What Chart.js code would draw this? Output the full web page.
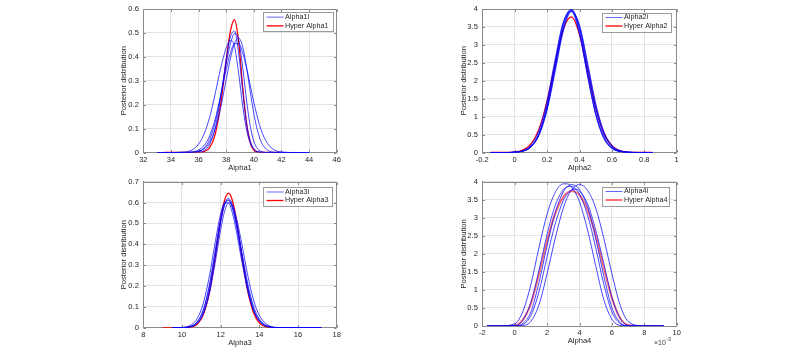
<!DOCTYPE html>
<html>
<head>
<meta charset="utf-8">
<script src="https://cdn.jsdelivr.net/npm/chart.js@4/dist/chart.umd.min.js"></script>
<style>
html,body{margin:0;padding:0;background:#fff;width:800px;height:351px;overflow:hidden}
canvas{position:absolute;left:0;top:0}
</style>
</head>
<body>
<canvas id="c1" width="800" height="351"></canvas>
<canvas id="c2" width="800" height="351"></canvas>
<canvas id="c3" width="800" height="351"></canvas>
<canvas id="c4" width="800" height="351"></canvas>
<script>
// ---------- Panel 1 : Alpha1 ----------
const xTicks1 = [32, 34, 36, 38, 40, 42, 44, 46];
const yTicks1 = [0, 0.1, 0.2, 0.3, 0.4, 0.5, 0.6];
const legend1 = ['Alpha1i', 'Hyper Alpha1'];
const xGrid1 = [33, 34, 35, 35.5, 36, 36.4, 36.8, 37.2, 37.6, 38, 38.3, 38.6, 38.9, 39.2, 39.5, 39.8, 40.1, 40.5, 41, 41.5, 42, 43, 44];
const alpha1_1 = [0, 0, 0, 0, 0.0016, 0.008, 0.034, 0.101, 0.229, 0.390, 0.482, 0.508, 0.417, 0.254, 0.115, 0.039, 0.0096, 0.0009, 0, 0, 0, 0, 0];
const alpha1_2 = [0, 0, 0, 0.0009, 0.0055, 0.019, 0.054, 0.125, 0.237, 0.370, 0.453, 0.497, 0.473, 0.353, 0.206, 0.093, 0.033, 0.0055, 0.0003, 0, 0, 0, 0];
const alpha1_3 = [0, 0, 0, 0.0008, 0.0045, 0.015, 0.042, 0.097, 0.187, 0.305, 0.391, 0.455, 0.478, 0.441, 0.347, 0.233, 0.133, 0.049, 0.0095, 0.0012, 0, 0, 0];
const alpha1_4 = [0, 0, 0.0025, 0.010, 0.035, 0.077, 0.147, 0.245, 0.352, 0.437, 0.468, 0.445, 0.332, 0.193, 0.088, 0.031, 0.0085, 0.001, 0, 0, 0, 0, 0];
const alpha1_5 = [0, 0, 0.0004, 0.0023, 0.0105, 0.029, 0.069, 0.139, 0.238, 0.347, 0.416, 0.455, 0.455, 0.416, 0.347, 0.265, 0.185, 0.099, 0.037, 0.0105, 0.0023, 0, 0];
const xHyper1 = [33.5, 34, 35, 36, 36.4, 36.8, 37.2, 37.6, 38, 38.3, 38.6, 38.9, 39.2, 39.5, 39.8, 40.1, 40.5, 41, 42];
const hyper1 = [0, 0, 0, 0.0006, 0.004, 0.020, 0.075, 0.200, 0.385, 0.506, 0.555, 0.464, 0.270, 0.110, 0.031, 0.006, 0.0004, 0, 0];

// ---------- Panel 2 : Alpha2 ----------
const xTicks2 = [-0.2, 0, 0.2, 0.4, 0.6, 0.8, 1];
const yTicks2 = [0, 0.5, 1, 1.5, 2, 2.5, 3, 3.5, 4];
const legend2 = ['Alpha2i', 'Hyper Alpha2'];
const xGrid2 = [-0.15, -0.05, 0, 0.05, 0.1, 0.15, 0.2, 0.25, 0.3, 0.35, 0.4, 0.45, 0.5, 0.55, 0.6, 0.65, 0.7, 0.75, 0.85];
const alpha2_1 = [0, 0, 0.007, 0.039, 0.165, 0.53, 1.31, 2.48, 3.59, 4.0, 3.41, 2.23, 1.11, 0.43, 0.126, 0.029, 0.005, 0, 0];
const alpha2_2 = [0, 0, 0.007, 0.037, 0.153, 0.495, 1.23, 2.36, 3.49, 3.97, 3.49, 2.36, 1.23, 0.495, 0.153, 0.037, 0.007, 0, 0];
const alpha2_3 = [0, 0, 0.011, 0.054, 0.209, 0.626, 1.45, 2.61, 3.64, 3.93, 3.29, 2.13, 1.07, 0.415, 0.126, 0.029, 0.005, 0, 0];
const alpha2_4 = [0, 0, 0.007, 0.038, 0.152, 0.48, 1.18, 2.26, 3.38, 3.93, 3.55, 2.50, 1.37, 0.59, 0.195, 0.051, 0.010, 0.002, 0];
const alpha2_5 = [0, 0, 0.007, 0.038, 0.162, 0.528, 1.31, 2.49, 3.60, 3.97, 3.34, 2.14, 1.05, 0.39, 0.111, 0.024, 0.004, 0, 0];
const alpha2_6 = [0, 0, 0.008, 0.041, 0.165, 0.513, 1.24, 2.35, 3.45, 3.95, 3.52, 2.44, 1.32, 0.556, 0.18, 0.047, 0.009, 0.001, 0];
const hyper2 = [0, 0, 0.015, 0.068, 0.235, 0.65, 1.43, 2.49, 3.44, 3.78, 3.29, 2.27, 1.25, 0.54, 0.19, 0.051, 0.011, 0.002, 0];

// ---------- Panel 3 : Alpha3 ----------
const xTicks3 = [8, 10, 12, 14, 16, 18];
const yTicks3 = [0, 0.1, 0.2, 0.3, 0.4, 0.5, 0.6, 0.7];
const legend3 = ['Alpha3i', 'Hyper Alpha3'];
const xGrid3 = [9.5, 10, 10.5, 10.8, 11.1, 11.4, 11.7, 12, 12.2, 12.4, 12.6, 12.8, 13.1, 13.4, 13.7, 14, 14.5, 15, 16, 17.2];
const alpha3_1 = [0, 0.0006, 0.008, 0.030, 0.086, 0.197, 0.361, 0.527, 0.598, 0.613, 0.575, 0.494, 0.335, 0.187, 0.086, 0.033, 0.004, 0.0003, 0, 0];
const alpha3_2 = [0, 0.0003, 0.0056, 0.022, 0.069, 0.169, 0.328, 0.504, 0.589, 0.620, 0.592, 0.516, 0.353, 0.197, 0.089, 0.033, 0.004, 0.0003, 0, 0];
const alpha3_3 = [0, 0.0014, 0.015, 0.046, 0.116, 0.239, 0.400, 0.546, 0.598, 0.599, 0.552, 0.469, 0.315, 0.176, 0.082, 0.032, 0.0044, 0.0004, 0, 0];
const alpha3_4 = [0, 0.0004, 0.0058, 0.022, 0.065, 0.156, 0.302, 0.469, 0.556, 0.598, 0.587, 0.533, 0.399, 0.251, 0.133, 0.059, 0.010, 0.001, 0, 0];
const alpha3_5 = [0, 0.0006, 0.008, 0.029, 0.082, 0.189, 0.348, 0.511, 0.586, 0.610, 0.581, 0.509, 0.359, 0.211, 0.103, 0.042, 0.006, 0.0006, 0, 0];
const xHyper3 = [9, 10, 10.5, 10.8, 11.1, 11.4, 11.7, 12, 12.2, 12.4, 12.6, 12.8, 13.1, 13.4, 13.7, 14, 14.5, 15, 15.9];
const hyper3 = [0, 0.0002, 0.0043, 0.018, 0.062, 0.161, 0.326, 0.517, 0.610, 0.645, 0.612, 0.524, 0.341, 0.176, 0.071, 0.023, 0.002, 0, 0];

// ---------- Panel 4 : Alpha4 (x in units of 1e-3) ----------
const xTicks4 = [-2, 0, 2, 4, 6, 8, 10];
const yTicks4 = [0, 0.5, 1, 1.5, 2, 2.5, 3, 3.5, 4];
const legend4 = ['Alpha4i', 'Hyper Alpha4'];
const xGrid4 = [-1.7, -1, 0, 0.5, 1, 1.5, 2, 2.5, 3, 3.25, 3.5, 3.75, 4, 4.5, 5, 5.5, 6, 6.5, 7, 8, 9.2];
const alpha4_1 = [0, 0, 0.06, 0.40, 1.15, 2.18, 3.10, 3.70, 3.94, 3.94, 3.86, 3.69, 3.44, 2.66, 1.67, 0.73, 0.19, 0.015, 0, 0, 0];
const alpha4_2 = [0, 0, 0, 0.07, 0.39, 1.21, 2.23, 3.14, 3.72, 3.86, 3.92, 3.89, 3.78, 3.29, 2.43, 1.39, 0.51, 0.10, 0, 0, 0];
const alpha4_3 = [0, 0, 0, 0.01, 0.13, 0.59, 1.45, 2.43, 3.27, 3.57, 3.76, 3.88, 3.92, 3.76, 3.27, 2.43, 1.45, 0.59, 0.13, 0, 0];
const alpha4_4 = [0, 0, 0.01, 0.16, 0.66, 1.55, 2.54, 3.34, 3.78, 3.86, 3.87, 3.80, 3.65, 3.07, 2.17, 1.16, 0.39, 0.07, 0, 0, 0];
const alpha4_5 = [0, 0, 0, 0.04, 0.29, 0.95, 1.92, 2.83, 3.48, 3.67, 3.77, 3.80, 3.74, 3.38, 2.66, 1.73, 0.80, 0.22, 0.02, 0, 0];
const hyper4 = [0, 0, 0.015, 0.17, 0.62, 1.44, 2.36, 3.12, 3.58, 3.69, 3.74, 3.71, 3.63, 3.22, 2.51, 1.61, 0.78, 0.22, 0.03, 0, 0];

// ---------- Styling / drawing ----------
const FAMILY = '"Liberation Sans", Arial, Helvetica, sans-serif';
const TXT = '#262626';
const GRID = '#e3e3e3';
const AXIS = '#8a8a8a';
const BLUE = 'rgba(0,0,255,0.72)';
const YW = 40, XH = 22;

function pts(xs, ys) { return xs.map((x, i) => ({ x: x, y: ys[i] })); }

const decor = {
  id: 'decor',
  beforeDatasetsDraw(chart, args, o) {
    const ctx = chart.ctx, a = chart.chartArea;
    const L = Math.round(a.left) + 0.5, R = Math.round(a.right) - 0.5;
    const T = Math.round(a.top) + 0.5, B = Math.round(a.bottom) - 0.5;
    ctx.save();
    ctx.strokeStyle = AXIS; ctx.lineWidth = 1;
    ctx.beginPath();
    ctx.moveTo(L, T); ctx.lineTo(R, T); ctx.lineTo(R, B);
    ctx.stroke();
    const xs = chart.scales.x, ys = chart.scales.y;
    ctx.beginPath();
    o.xTicks.forEach(v => {
      const px = Math.round(xs.getPixelForValue(v)) + 0.5;
      ctx.moveTo(px, B); ctx.lineTo(px, B - 2.5);
      ctx.moveTo(px, T); ctx.lineTo(px, T + 2.5);
    });
    o.yTicks.forEach(v => {
      const py = Math.round(ys.getPixelForValue(v)) + 0.5;
      ctx.moveTo(L, py); ctx.lineTo(L + 2.5, py);
      ctx.moveTo(R, py); ctx.lineTo(R - 2.5, py);
    });
    ctx.stroke();
    ctx.restore();
  },
  afterDraw(chart, args, o) {
    const ctx = chart.ctx, a = chart.chartArea;
    ctx.save();
    ctx.fillStyle = TXT;
    ctx.textBaseline = 'middle';
    ctx.textAlign = 'center';
    ctx.font = '7.6px ' + FAMILY;
    ctx.fillText(o.xTitle, (a.left + a.right) / 2, o.xTitleY);
    ctx.save();
    ctx.translate(o.yTitleX, (a.top + a.bottom) / 2);
    ctx.rotate(-Math.PI / 2);
    ctx.fillText(o.yTitle, 0, 0);
    ctx.restore();
    // legend
    const [lx, ly, lw, lh] = o.legendBox;
    ctx.fillStyle = '#fff';
    ctx.fillRect(lx, ly, lw, lh);
    ctx.strokeStyle = '#9a9a9a'; ctx.lineWidth = 1;
    ctx.strokeRect(Math.round(lx) + 0.5, Math.round(ly) + 0.5, Math.round(lw), Math.round(lh));
    const rows = [ly + lh * 0.27, ly + lh * 0.73];
    const styles = [[o.legendBlue, 1], [o.redColor, o.redWidth]];
    ctx.font = '7.2px ' + FAMILY;
    ctx.textAlign = 'left';
    o.legend.forEach((lab, i) => {
      ctx.strokeStyle = styles[i][0]; ctx.lineWidth = styles[i][1];
      ctx.beginPath(); ctx.moveTo(lx + 3.5, rows[i]); ctx.lineTo(lx + 20.5, rows[i]); ctx.stroke();
      ctx.fillStyle = TXT;
      ctx.fillText(lab, lx + 22, rows[i]);
    });
    if (o.exponent) {
      ctx.fillStyle = '#404040';
      ctx.font = '7px ' + FAMILY;
      ctx.textAlign = 'left';
      ctx.fillText('\u00d710', o.exponent[0], o.exponent[1]);
      const w = ctx.measureText('\u00d710').width;
      ctx.font = '5.4px ' + FAMILY;
      ctx.fillText('-3', o.exponent[0] + w + 0.3, o.exponent[1] - 3.2);
    }
    ctx.restore();
  }
};

function panel(id, p) {
  const datasets = p.blue.map(ys => ({
    data: pts(p.bx, ys), borderColor: BLUE, borderWidth: 1,
    pointRadius: 0, fill: false, cubicInterpolationMode: 'monotone'
  }));
  datasets.push({
    data: pts(p.rx, p.red), borderColor: p.redColor, borderWidth: p.redWidth,
    pointRadius: 0, fill: false, cubicInterpolationMode: 'monotone'
  });
  const tickFont = { family: FAMILY, size: 7.5 };
  new Chart(document.getElementById(id), {
    type: 'line',
    data: { datasets: datasets },
    plugins: [decor],
    options: {
      responsive: false, animation: false, devicePixelRatio: 1, events: [],
      layout: { autoPadding: false, padding: { left: p.l - YW, right: 800 - p.r, top: p.t, bottom: 351 - p.b - XH } },
      plugins: {
        legend: { display: false }, tooltip: { enabled: false },
        decor: {
          xTicks: p.xTicks, yTicks: p.yTicks, xTitle: p.xTitle, xTitleY: p.xTitleY,
          yTitle: 'Posterior distribution', yTitleX: p.yTitleX, legend: p.legend,
          legendBox: p.legendBox, legendBlue: 'rgba(0,0,255,0.6)',
          redColor: p.redColor, redWidth: p.redWidth, exponent: p.exponent
        }
      },
      scales: {
        x: {
          type: 'linear', min: p.xTicks[0], max: p.xTicks[p.xTicks.length - 1],
          afterBuildTicks: s => { s.ticks = p.xTicks.map(v => ({ value: v })); },
          afterFit: s => { s.height = XH; },
          grid: { color: GRID, drawTicks: false, lineWidth: 1 },
          border: { color: AXIS, width: 1 },
          ticks: { padding: 2.5, color: TXT, font: tickFont, maxRotation: 0, autoSkip: false, callback: v => String(v) }
        },
        y: {
          type: 'linear', min: p.yTicks[0], max: p.yTicks[p.yTicks.length - 1],
          afterBuildTicks: s => { s.ticks = p.yTicks.map(v => ({ value: v })); },
          afterFit: s => { s.width = YW; },
          grid: { color: GRID, drawTicks: false, lineWidth: 1 },
          border: { color: AXIS, width: 1 },
          ticks: { padding: 4.5, color: TXT, font: tickFont, autoSkip: false, callback: v => String(v) }
        }
      }
    }
  });
}

panel('c1', {
  l: 143.3, r: 336.7, t: 7.5, b: 152.5,
  xTicks: xTicks1, yTicks: yTicks1, xTitle: 'Alpha1', xTitleY: 168, yTitleX: 124,
  legend: legend1, legendBox: [263, 12, 70, 19],
  bx: xGrid1, blue: [alpha1_1, alpha1_2, alpha1_3, alpha1_4, alpha1_5],
  rx: xHyper1, red: hyper1, redColor: '#ff0000', redWidth: 1.3
});
panel('c2', {
  l: 482.3, r: 676.7, t: 7.5, b: 152.5,
  xTicks: xTicks2, yTicks: yTicks2, xTitle: 'Alpha2', xTitleY: 168, yTitleX: 463.5,
  legend: legend2, legendBox: [602, 12.5, 69, 18.5],
  bx: xGrid2, blue: [alpha2_1, alpha2_2, alpha2_3, alpha2_4, alpha2_5, alpha2_6],
  rx: xGrid2, red: hyper2, redColor: '#ff0000', redWidth: 1.3
});
panel('c3', {
  l: 143.3, r: 336.7, t: 181.7, b: 327.7,
  xTicks: xTicks3, yTicks: yTicks3, xTitle: 'Alpha3', xTitleY: 343, yTitleX: 124,
  legend: legend3, legendBox: [263, 187, 69, 18.5],
  bx: xGrid3, blue: [alpha3_1, alpha3_2, alpha3_3, alpha3_4, alpha3_5],
  rx: xHyper3, red: hyper3, redColor: '#ff0000', redWidth: 1.3
});
panel('c4', {
  l: 482.3, r: 676.7, t: 181.7, b: 326,
  xTicks: xTicks4, yTicks: yTicks4, xTitle: 'Alpha4', xTitleY: 340.5, yTitleX: 463.5,
  legend: legend4, legendBox: [602, 186.5, 66.5, 18.5],
  bx: xGrid4, blue: [alpha4_1, alpha4_2, alpha4_3, alpha4_4, alpha4_5],
  rx: xGrid4, red: hyper4, redColor: 'rgba(255,0,0,0.55)', redWidth: 2,
  exponent: [654, 343]
});
</script>
</body>
</html>
